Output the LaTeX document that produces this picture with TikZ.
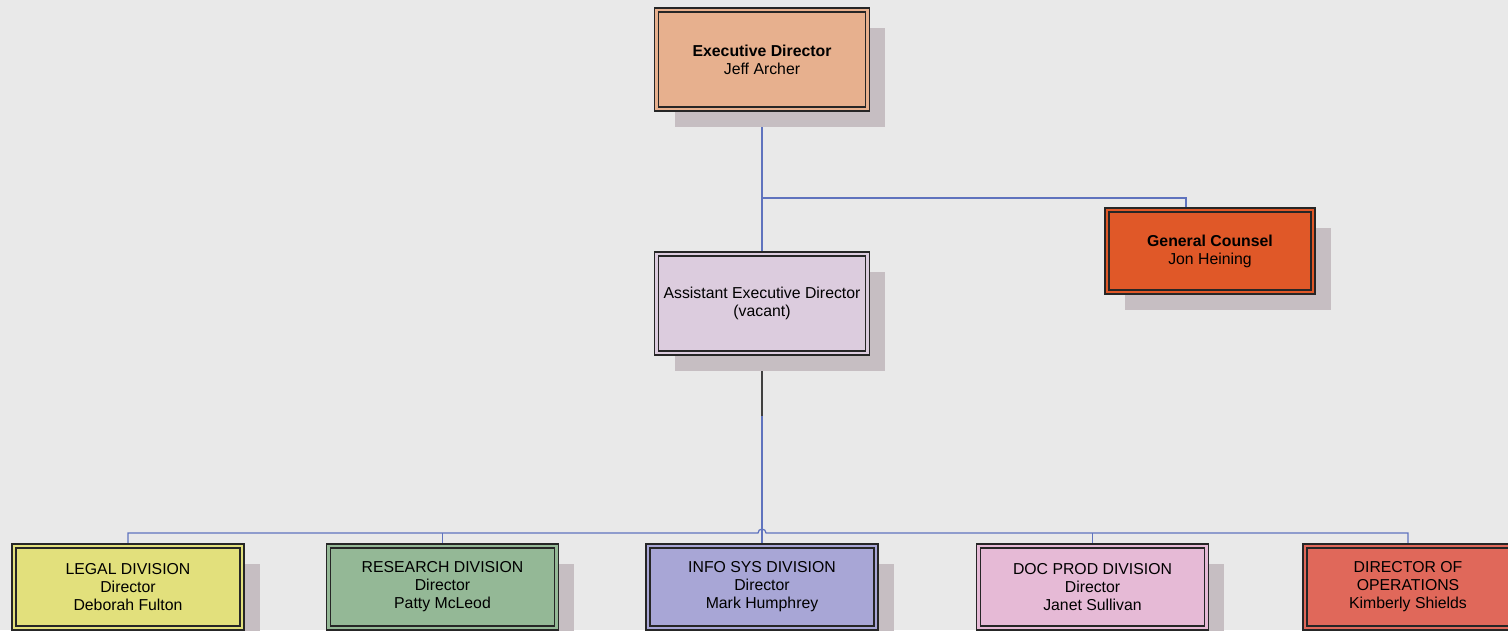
\documentclass[tikz,border=0pt]{standalone}
\usepackage{fontspec}
\setmainfont{Liberation Sans}
\usetikzlibrary{positioning, shadows, backgrounds}

\definecolor{bgcol}{RGB}{233,233,233}
\definecolor{shadowcol}{RGB}{198,190,194}
\definecolor{linecol}{RGB}{95,115,190}
\definecolor{execcol}{RGB}{231,176,142}
\definecolor{astcol}{RGB}{220,204,222}
\definecolor{gccol}{RGB}{224,88,40}
\definecolor{legalcol}{RGB}{226,224,124}
\definecolor{rescol}{RGB}{148,184,150}
\definecolor{infocol}{RGB}{168,166,214}
\definecolor{doccol}{RGB}{230,186,214}
\definecolor{opscol}{RGB}{224,104,90}

\begin{document}
\begin{tikzpicture}[x=0.02cm, y=-0.02cm, font=\fontsize{9}{10.2}\selectfont,
	box/.style={rectangle, draw=black!85, double=#1, double distance=1.5pt, line width=0.9pt,
		fill=#1, align=center, inner sep=2pt,
		drop shadow={shadow xshift=0.36cm, shadow yshift=-0.36cm, fill=shadowcol, opacity=1}},
	upper/.style={box=#1, minimum width=4.22cm, minimum height=1.98cm},
	side/.style={box=#1, minimum width=4.12cm, minimum height=1.64cm},
	div/.style={box=#1, minimum width=4.56cm, minimum height=1.64cm},
	conn/.style={draw=linecol, line width=0.7pt}]
		\useasboundingbox (0,0) rectangle (1508,630);
		
		\node[upper=execcol] (exec) at (762,59.5) {\textbf{Executive Director}\\Jeff Archer};
		\node[upper=astcol] (ast) at (762,303.5) {Assistant Executive Director\\(vacant)};
		\node[side=gccol] (gc) at (1210,251) {\textbf{General Counsel}\\Jon Heining};
		
		\node[div=legalcol] (legal) at (128,587) {LEGAL DIVISION\\Director\\Deborah Fulton};
		\node[div=rescol] (research) at (442.5,587) {RESEARCH DIVISION\\Director\\Patty McLeod};
		\node[div=infocol] (info) at (762,587) {INFO SYS DIVISION\\Director\\Mark Humphrey};
		\node[div=doccol] (doc) at (1092.5,587) {DOC PROD DIVISION\\Director\\Janet Sullivan};
		\node[side=opscol] (ops) at (1408,587) {DIRECTOR OF\\OPERATIONS\\Kimberly Shields};
		
		\coordinate (gcin) at ([xshift=-0.48cm]gc.north);
		\coordinate (hopl) at (758,533);
		\coordinate (hopr) at (766,533);
		
		\begin{scope}[on background layer]
			\fill[bgcol] (0,0) rectangle (1508,630);
			\path[conn] (exec.south) -- (ast.north);
			\path[conn] (exec.south |- 0,198) -| (gcin);
			\path[conn] (ast.south) -- (info.north);
			\draw[black!75, line width=0.7pt] (ast.south) -- ++(0,62);
			% bus over the division heads, with a hop at the middle
			\path[conn] (legal.north) |- (hopl) arc[start angle=180, end angle=0, radius=0.08cm] -| (ops.north);
			\path[conn] (research.north) -- (research.north |- hopl);
			\path[conn] (doc.north) -- (doc.north |- hopl);
		\end{scope}
	\end{tikzpicture}
\end{document}
